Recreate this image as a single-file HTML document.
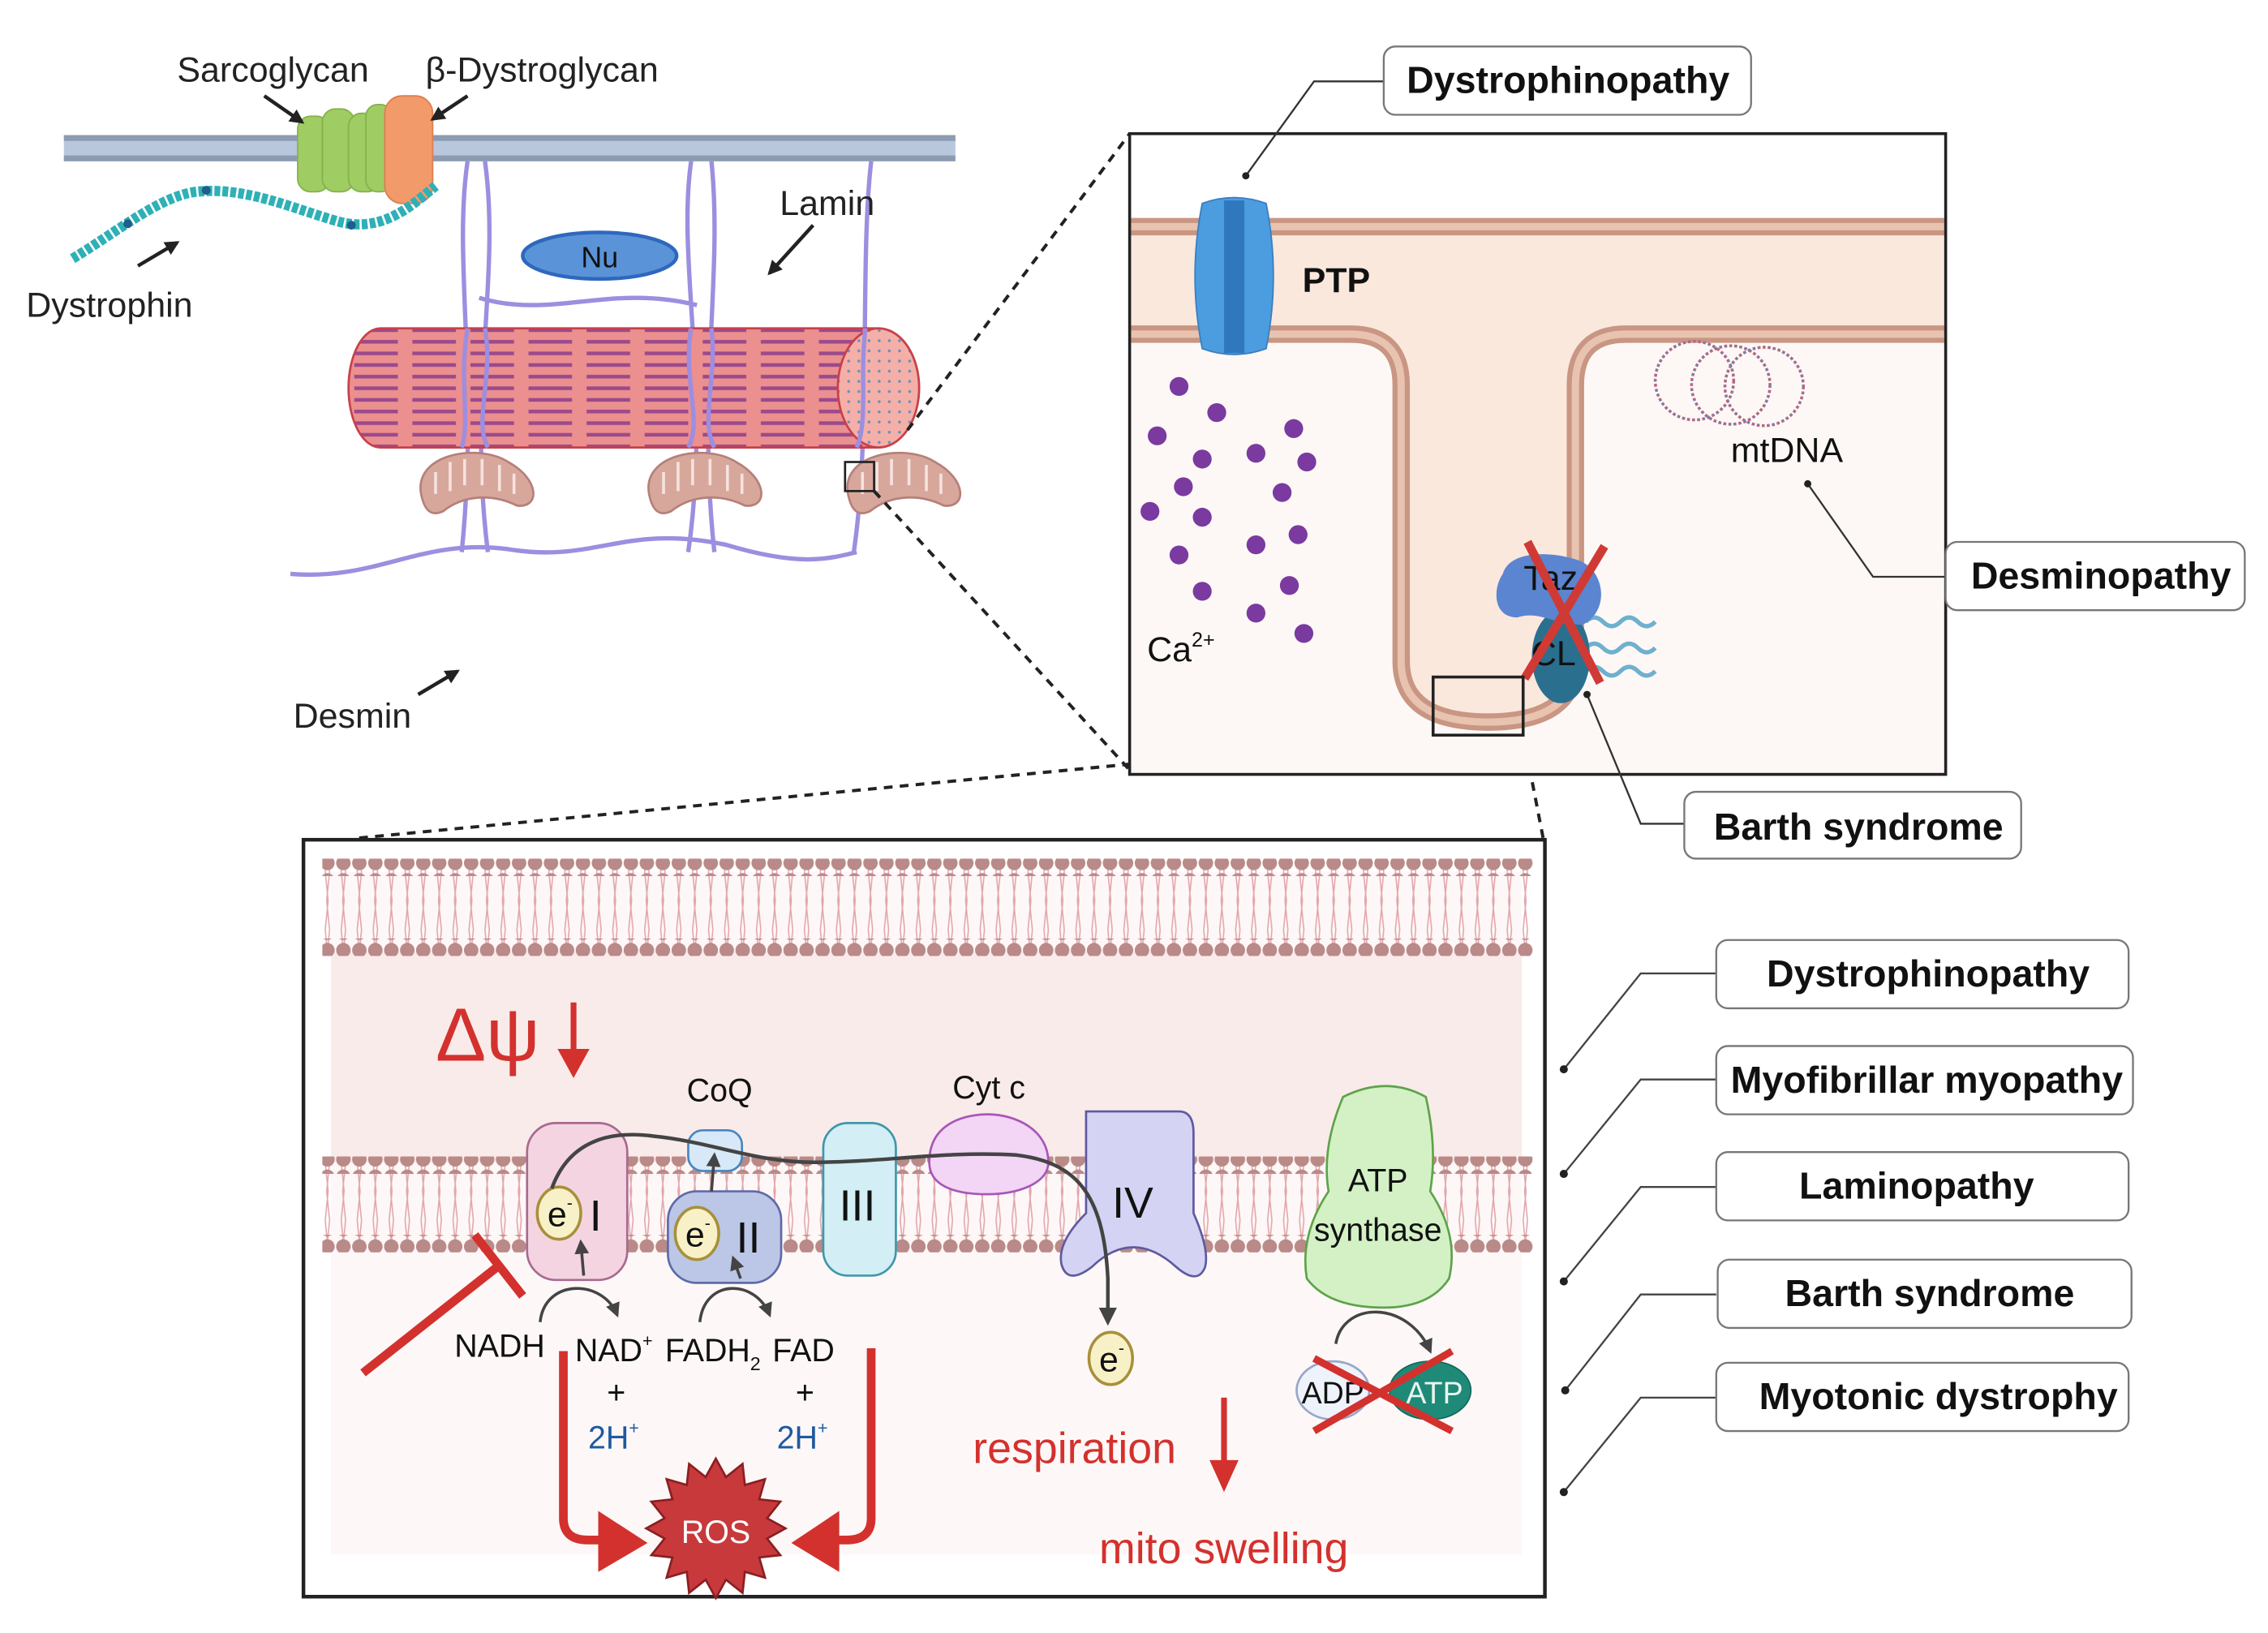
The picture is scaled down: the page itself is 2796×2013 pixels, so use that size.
<!DOCTYPE html>
<html><head><meta charset="utf-8"><style>
html,body{margin:0;padding:0;background:#fff;}
svg{display:block}
text{font-family:"Liberation Sans",sans-serif;}
</style></head><body>
<svg width="2796" height="2013" viewBox="0 0 1562 1124" preserveAspectRatio="none" xmlns="http://www.w3.org/2000/svg">
<defs>
<pattern id="heads" width="11" height="12" patternUnits="userSpaceOnUse"><circle cx="5.5" cy="6" r="5" fill="#b98a88"/></pattern>
<pattern id="tails" width="11" height="40" patternUnits="userSpaceOnUse"><path d="M4,0 L6,20 L4,40 M7,0 L5,20 L7,40" stroke="#e3a6ad" stroke-width="0.9" fill="none"/></pattern>
<pattern id="fib" width="40" height="8" patternUnits="userSpaceOnUse"><rect width="40" height="8" fill="#ec8f8f"/><rect x="4" y="2" width="30" height="2.5" fill="#9a4a8c"/></pattern>
<pattern id="dots" width="7" height="7" patternUnits="userSpaceOnUse"><rect width="7" height="7" fill="#f4b0a8"/><circle cx="3.5" cy="3.5" r="1" fill="#6f8fb6"/></pattern>
<marker id="ah" viewBox="0 0 10 10" refX="8" refY="5" markerWidth="5" markerHeight="5" orient="auto"><path d="M0,0 L10,5 L0,10 Z" fill="#444"/></marker>
<marker id="bh" viewBox="0 0 10 10" refX="8" refY="5" markerWidth="4" markerHeight="4" orient="auto"><path d="M0,0 L10,5 L0,10 Z" fill="#222"/></marker>
</defs>

<!-- ============ TOP LEFT: sarcolemma ============ -->
<rect x="44" y="93" width="614" height="18" fill="#b9c7dc"/>
<rect x="44" y="93" width="614" height="4" fill="#8c9bb2"/>
<rect x="44" y="107" width="614" height="4" fill="#8c9bb2"/>
<!-- lamin filaments -->
<g stroke="#9d8ee0" stroke-width="3" fill="none">
<path d="M322,111 C312,180 330,260 318,380"/>
<path d="M334,111 C345,190 322,270 336,380"/>
<path d="M476,111 C466,180 490,270 474,380"/>
<path d="M490,111 C498,190 480,270 492,380"/>
<path d="M600,111 C592,180 600,300 588,380"/>
<path d="M330,205 C380,220 420,195 480,210"/>
<path d="M200,395 C260,400 290,370 350,378 C410,388 430,360 500,375 C550,390 570,385 590,380"/>
</g>
<!-- green sarcoglycan -->
<g fill="#9fcc63" stroke="#86b24c" stroke-width="1">
<rect x="205" y="80" width="22" height="52" rx="9"/>
<rect x="222" y="75" width="22" height="57" rx="9"/>
<rect x="240" y="78" width="22" height="54" rx="9"/>
<rect x="252" y="72" width="18" height="60" rx="8"/>
</g>
<rect x="265" y="66" width="33" height="74" rx="12" fill="#f29a6a" stroke="#dd7f50"/>
<!-- dystrophin -->
<path d="M50,178 C80,160 110,135 135,132 C170,128 205,145 235,153 C265,160 285,140 300,128" stroke="#2eb0b7" stroke-width="7" stroke-dasharray="4 1.5" fill="none"/>
<circle cx="88" cy="154" r="3" fill="#1f5e8d"/><circle cx="142" cy="131" r="3" fill="#1f5e8d"/><circle cx="242" cy="155" r="3" fill="#1f5e8d"/>
<!-- arrows -->
<g stroke="#222" stroke-width="2.5" fill="none" marker-end="url(#bh)">
<path d="M182,66 L208,84"/><path d="M322,66 L298,82"/>
<path d="M95,183 L122,167"/><path d="M560,155 L530,188"/><path d="M288,478 L315,462"/>
</g>
<ellipse cx="413" cy="176" rx="53" ry="16" fill="#5b93d8" stroke="#2e68be" stroke-width="2.5"/>
<text x="413" y="184" font-size="20" text-anchor="middle" fill="#111">Nu</text>
<!-- fibre -->
<path d="M262,226 H605 A28,41 0 0 1 605,308 H262 A22,41 0 0 1 262,226 Z" fill="url(#fib)" stroke="#c8404a" stroke-width="1.5"/>
<ellipse cx="605" cy="267" rx="28" ry="41" fill="url(#dots)" stroke="#c8404a" stroke-width="1.5"/>
<g stroke="#9d8ee0" stroke-width="3" fill="none">
<path d="M322,226 C316,260 324,290 318,308"/><path d="M334,226 C340,260 326,290 336,308"/>
<path d="M476,226 C470,260 484,290 474,308"/><path d="M490,226 C494,260 482,290 492,308"/>
<path d="M596,226 C592,260 598,290 590,308"/>
</g>
<!-- mitochondria -->
<g fill="#d8a79c" stroke="#b5807a" stroke-width="1.5">
<path d="M290,340 C285,312 330,305 350,318 C372,330 372,350 356,348 C340,340 320,340 305,352 C296,356 292,350 290,340Z"/>
<path d="M447,340 C442,312 487,305 507,318 C529,330 529,350 513,348 C497,340 477,340 462,352 C453,356 449,350 447,340Z"/>
<path d="M584,340 C579,312 624,305 644,318 C666,330 666,350 650,348 C634,340 614,340 599,352 C590,356 586,350 584,340Z"/>
</g>
<g stroke="#f5e3de" stroke-width="2"><path d="M300,325 v15 M310,318 v20 M320,316 v18 M332,316 v18 M344,320 v18 M354,326 v14 M457,325 v15 M467,318 v20 M477,316 v18 M489,316 v18 M501,320 v18 M511,326 v14 M594,325 v15 M604,318 v20 M614,316 v18 M626,316 v18 M638,320 v18 M648,326 v14"/></g>
<rect x="582" y="318" width="20" height="20" fill="none" stroke="#222" stroke-width="1.5"/>
<g font-size="24" fill="#222">
<text x="122" y="56">Sarcoglycan</text>
<text x="293" y="56">β-Dystroglycan</text>
<text x="18" y="218">Dystrophin</text>
<text x="537" y="148">Lamin</text>
<text x="202" y="501">Desmin</text>
</g>
<!-- dashed zoom lines -->
<g stroke="#222" stroke-width="2.2" stroke-dasharray="6 5" fill="none">
<path d="M625,296 L778,92"/><path d="M602,338 L778,530"/>
<path d="M987,506 L245,577"/><path d="M1049,506 L1063,578"/>
</g>

<!-- ============ TOP RIGHT ============ -->
<rect x="778" y="92" width="562" height="441" fill="#fdf8f6"/>
<rect x="779" y="93" width="560" height="60" fill="#ffffff"/>
<path d="M779,156 H1339 V230 H1120 Q1085,230 1085,265 V455 Q1085,497 1025,497 Q965,497 965,455 V265 Q965,230 930,230 H779 Z" fill="#fbe8dc"/>
<rect x="779" y="150" width="560" height="12" fill="#c99683"/>
<rect x="779" y="153.5" width="560" height="5" fill="#e8c3b0"/>
<path d="M779,230 H930 Q965,230 965,265 V455 Q965,497 1025,497 Q1085,497 1085,455 V265 Q1085,230 1120,230 H1339" fill="none" stroke="#c99683" stroke-width="12"/>
<path d="M779,230 H930 Q965,230 965,265 V455 Q965,497 1025,497 Q1085,497 1085,455 V265 Q1085,230 1120,230 H1339" fill="none" stroke="#e8c3b0" stroke-width="5"/>
<rect x="778" y="92" width="562" height="441" fill="none" stroke="#222" stroke-width="2"/>
<!-- PTP -->
<path d="M828,140 Q850,132 872,140 Q882,190 872,240 Q850,248 828,240 Q818,190 828,140Z" fill="#4c9ce0" stroke="#3a7fc0"/>
<rect x="843" y="138" width="14" height="105" fill="#2f78be"/>
<text x="897" y="201" font-size="24" font-weight="bold" fill="#111">PTP</text>
<!-- Ca -->
<g fill="#7a3aa0">
<circle cx="812" cy="266" r="6.5"/><circle cx="838" cy="284" r="6.5"/><circle cx="797" cy="300" r="6.5"/><circle cx="828" cy="316" r="6.5"/><circle cx="865" cy="312" r="6.5"/><circle cx="891" cy="295" r="6.5"/><circle cx="900" cy="318" r="6.5"/><circle cx="815" cy="335" r="6.5"/><circle cx="883" cy="339" r="6.5"/><circle cx="792" cy="352" r="6.5"/><circle cx="828" cy="356" r="6.5"/><circle cx="865" cy="375" r="6.5"/><circle cx="894" cy="368" r="6.5"/><circle cx="812" cy="382" r="6.5"/><circle cx="888" cy="403" r="6.5"/><circle cx="828" cy="407" r="6.5"/><circle cx="865" cy="422" r="6.5"/><circle cx="898" cy="436" r="6.5"/>
</g>
<text x="790" y="455" font-size="24" fill="#111">Ca<tspan font-size="14" dy="-10">2+</tspan></text>
<!-- mtDNA -->
<g fill="none" stroke="#d06070" stroke-width="2" stroke-dasharray="2 1.5">
<circle cx="1167" cy="262" r="27"/><circle cx="1192" cy="265" r="27"/><circle cx="1215" cy="266" r="27"/>
</g>
<g fill="none" stroke="#5a8ac0" stroke-width="1" stroke-dasharray="1.5 2">
<circle cx="1167" cy="262" r="27"/><circle cx="1192" cy="265" r="27"/><circle cx="1215" cy="266" r="27"/>
</g>
<text x="1192" y="318" font-size="24" fill="#111">mtDNA</text>
<!-- Taz / CL -->
<g fill="none" stroke="#6fb0cf" stroke-width="3"><path d="M1092,428 q6,-6 12,0 t12,0 t12,0 t12,0"/><path d="M1092,446 q6,-6 12,0 t12,0 t12,0 t12,0"/><path d="M1092,462 q6,-6 12,0 t12,0 t12,0 t12,0"/></g>
<ellipse cx="1075" cy="452" rx="20" ry="32" fill="#2b6f8f"/>
<path d="M1035,395 C1040,378 1070,380 1085,385 C1105,390 1110,420 1090,430 C1070,430 1060,420 1045,425 C1028,425 1028,405 1035,395Z" fill="#5b85d0"/>
<text x="1068" y="406" font-size="24" fill="#111" text-anchor="middle">Taz</text>
<text x="1070" y="458" font-size="24" fill="#111" text-anchor="middle">CL</text>
<g stroke="#d03a35" stroke-width="6"><path d="M1052,373 L1102,470"/><path d="M1105,376 L1050,467"/></g>
<rect x="987" y="466" width="62" height="40" fill="none" stroke="#222" stroke-width="2"/>

<!-- callouts top right -->
<g stroke="#333" stroke-width="1.3" fill="none">
<path d="M953,56 H905 L858,121"/><path d="M1340,397 H1290 L1245,333"/><path d="M1160,567 H1130 L1093,478"/>
</g>
<g fill="#222"><circle cx="858" cy="121" r="2.5"/><circle cx="1245" cy="333" r="2.5"/><circle cx="1093" cy="478" r="2.5"/></g>
<g fill="#fff" stroke="#777" stroke-width="1.3">
<rect x="953" y="32" width="253" height="47" rx="8"/>
<rect x="1340" y="373" width="206" height="47" rx="8"/>
<rect x="1160" y="545" width="232" height="46" rx="8"/>
</g>
<g font-size="26" font-weight="bold" fill="#111" text-anchor="middle">
<text x="1080" y="64">Dystrophinopathy</text>
<text x="1447" y="405">Desminopathy</text>
<text x="1280" y="578">Barth syndrome</text>
</g>

<!-- ============ BOTTOM BOX ============ -->
<rect x="209" y="578" width="855" height="521" fill="#fff"/>
<rect x="228" y="600" width="820" height="470" fill="#fdf8f7"/>
<rect x="228" y="655" width="820" height="145" fill="#f9ebe9"/>
<!-- top bilayer -->
<rect x="222" y="598" width="834" height="55" fill="url(#tails)"/>
<rect x="222" y="591" width="834" height="12" fill="url(#heads)"/>
<rect x="222" y="646" width="834" height="12" fill="url(#heads)"/>
<!-- inner bilayer -->
<rect x="222" y="802" width="834" height="52" fill="url(#tails)"/>
<rect x="222" y="796" width="834" height="12" fill="url(#heads)"/>
<rect x="222" y="850" width="834" height="12" fill="url(#heads)"/>
<rect x="209" y="578" width="855" height="521" fill="none" stroke="#222" stroke-width="2.5"/>

<!-- Δψ -->
<text x="300" y="730" font-size="52" fill="#d3312e">Δψ</text>
<path d="M395,690 V728" stroke="#d3312e" stroke-width="4"/><path d="M384,722 L395,742 L406,722Z" fill="#d3312e"/>

<!-- complexes -->
<rect x="363" y="773" width="69" height="108" rx="20" fill="#f5d4e2" stroke="#a86a90" stroke-width="1.5"/>
<rect x="460" y="820" width="78" height="63" rx="20" fill="#bcc6e6" stroke="#5e6aa8" stroke-width="1.5"/>
<rect x="474" y="778" width="37" height="28" rx="10" fill="#d7e9f8" stroke="#4a86c0" stroke-width="1.5"/>
<rect x="567" y="773" width="50" height="105" rx="17" fill="#d3eef4" stroke="#3e98ad" stroke-width="1.5"/>
<path d="M640,800 C640,770 670,767 680,767 C700,767 722,778 722,800 C722,815 700,822 680,822 C655,822 640,815 640,800Z" fill="#f3d5f6" stroke="#a856b8" stroke-width="1.5"/>
<path d="M748,765 H812 Q822,765 822,780 V835 Q833,860 830,872 Q825,885 810,872 Q780,845 752,872 Q735,885 731,870 Q728,855 748,835 Z" fill="#d4d3f3" stroke="#5e5aa0" stroke-width="1.5"/>
<path d="M925,755 Q955,740 982,755 Q990,790 985,820 Q1005,850 998,880 Q985,900 953,900 Q915,900 900,880 Q895,850 915,820 Q910,790 925,755Z" fill="#d3f1c5" stroke="#5ea34a" stroke-width="1.5"/>
<!-- e- circles -->
<g fill="#f8f1c8" stroke="#a8903a" stroke-width="2">
<ellipse cx="385" cy="835" rx="15" ry="18"/><ellipse cx="480" cy="849" rx="15" ry="18"/><ellipse cx="765" cy="935" rx="15" ry="18"/>
</g>
<g font-size="24" fill="#111">
<text x="377" y="844">e<tspan font-size="12" dy="-12">-</tspan></text>
<text x="472" y="858">e<tspan font-size="12" dy="-12">-</tspan></text>
<text x="757" y="944">e<tspan font-size="12" dy="-12">-</tspan></text>
<text x="406" y="847" font-size="30">I</text>
<text x="507" y="862" font-size="30">II</text>
<text x="578" y="840" font-size="30">III</text>
<text x="766" y="838" font-size="30">IV</text>
<text x="473" y="758" font-size="22">CoQ</text>
<text x="656" y="756" font-size="22">Cyt c</text>
<text x="949" y="820" font-size="22" text-anchor="middle">ATP</text>
<text x="949" y="854" font-size="22" text-anchor="middle">synthase</text>
</g>
<!-- e path -->
<path d="M380,818 C392,785 420,778 450,782 C490,786 520,800 560,800 C610,800 650,792 700,795 C740,800 760,820 763,880 L763,910" fill="none" stroke="#444" stroke-width="2.5" marker-end="url(#ah)"/>
<path d="M490,820 L492,795" stroke="#444" stroke-width="2" marker-end="url(#ah)"/>
<g fill="none" stroke="#444" stroke-width="2">
<path d="M372,910 C375,880 415,880 425,905" marker-end="url(#ah)"/>
<path d="M402,878 L400,855" marker-end="url(#ah)"/>
<path d="M482,910 C485,880 520,880 530,905" marker-end="url(#ah)"/>
<path d="M510,880 L505,866" marker-end="url(#ah)"/>
<path d="M920,925 C925,895 970,895 985,930" marker-end="url(#ah)"/>
</g>
<g font-size="22" fill="#111">
<text x="313" y="934">NADH</text>
<text x="396" y="937">NAD<tspan font-size="12" dy="-10">+</tspan></text>
<text x="458" y="937">FADH<tspan font-size="13" dy="6">2</tspan></text>
<text x="532" y="937">FAD</text>
<text x="418" y="966">+</text><text x="548" y="966">+</text>
</g>
<g font-size="22" fill="#1f5aa0">
<text x="405" y="997">2H<tspan font-size="12" dy="-10">+</tspan></text>
<text x="535" y="997">2H<tspan font-size="12" dy="-10">+</tspan></text>
</g>
<!-- inhibition -->
<path d="M250,945 L345,870" stroke="#d3312e" stroke-width="6"/>
<path d="M327,850 L360,892" stroke="#d3312e" stroke-width="6"/>
<!-- red arrows to ROS -->
<path d="M388,930 V1045 Q388,1060 405,1060 H420" fill="none" stroke="#d3312e" stroke-width="6"/>
<path d="M412,1040 L446,1062 L412,1082Z" fill="#d3312e"/>
<path d="M600,928 V1045 Q600,1060 583,1060 H568" fill="none" stroke="#d3312e" stroke-width="6"/>
<path d="M578,1040 L545,1062 L578,1082Z" fill="#d3312e"/>
<polygon points="541,1052 528.3,1059 537.4,1070.4 522.9,1072 526.9,1085.9 513,1081.9 511.4,1096.4 500,1087.3 493,1100 486,1087.3 474.6,1096.4 473,1081.9 459.1,1085.9 463.1,1072 448.6,1070.4 457.7,1059 445,1052 457.7,1045 448.6,1033.6 463.1,1032 459.1,1018.1 473,1022.1 474.6,1007.6 486,1016.7 493,1004 500,1016.7 511.4,1007.6 513,1022.1 526.9,1018.1 522.9,1032 537.4,1033.6 528.3,1045" fill="#c8393c" stroke="#8a1f22" stroke-width="1.5"/>
<text x="493" y="1062" font-size="22" fill="#fff" text-anchor="middle">ROS</text>
<!-- ADP ATP -->
<ellipse cx="918" cy="957" rx="25" ry="20" fill="#eef2fb" stroke="#98a6c8" stroke-width="1.5"/>
<ellipse cx="985" cy="957" rx="28" ry="20" fill="#1f8a78" stroke="#146a5a"/>
<text x="918" y="966" font-size="21" fill="#111" text-anchor="middle">ADP</text>
<text x="988" y="966" font-size="21" fill="#e8f5f0" text-anchor="middle">ATP</text>
<g stroke="#d3312e" stroke-width="5"><path d="M905,935 L1000,985"/><path d="M1000,930 L905,985"/></g>
<!-- respiration -->
<text x="670" y="1007" font-size="30" fill="#d3312e">respiration</text>
<path d="M843,962 V1010" stroke="#d3312e" stroke-width="4"/><path d="M833,1005 L843,1027 L853,1005Z" fill="#d3312e"/>
<text x="757" y="1076" font-size="30" fill="#d3312e">mito swelling</text>

<!-- right callouts -->
<g stroke="#444" stroke-width="1.3" fill="none">
<path d="M1182,670 H1130 L1077,736"/>
<path d="M1182,743 H1130 L1077,808"/>
<path d="M1182,817 H1130 L1077,882"/>
<path d="M1182,891 H1130 L1078,957"/>
<path d="M1182,962 H1130 L1077,1027"/>
</g>
<g fill="#222"><circle cx="1077" cy="736" r="2.8"/><circle cx="1077" cy="808" r="2.8"/><circle cx="1077" cy="882" r="2.8"/><circle cx="1078" cy="957" r="2.8"/><circle cx="1077" cy="1027" r="2.8"/></g>
<g fill="#fff" stroke="#777" stroke-width="1.3">
<rect x="1182" y="647" width="284" height="47" rx="8"/>
<rect x="1182" y="720" width="287" height="47" rx="8"/>
<rect x="1182" y="793" width="284" height="47" rx="8"/>
<rect x="1183" y="867" width="285" height="47" rx="8"/>
<rect x="1182" y="938" width="284" height="47" rx="8"/>
</g>
<g font-size="26" font-weight="bold" fill="#111" text-anchor="middle">
<text x="1328" y="679">Dystrophinopathy</text>
<text x="1327" y="752">Myofibrillar myopathy</text>
<text x="1320" y="825">Laminopathy</text>
<text x="1329" y="899">Barth syndrome</text>
<text x="1335" y="970">Myotonic dystrophy</text>
</g>
</svg>
</body></html>
